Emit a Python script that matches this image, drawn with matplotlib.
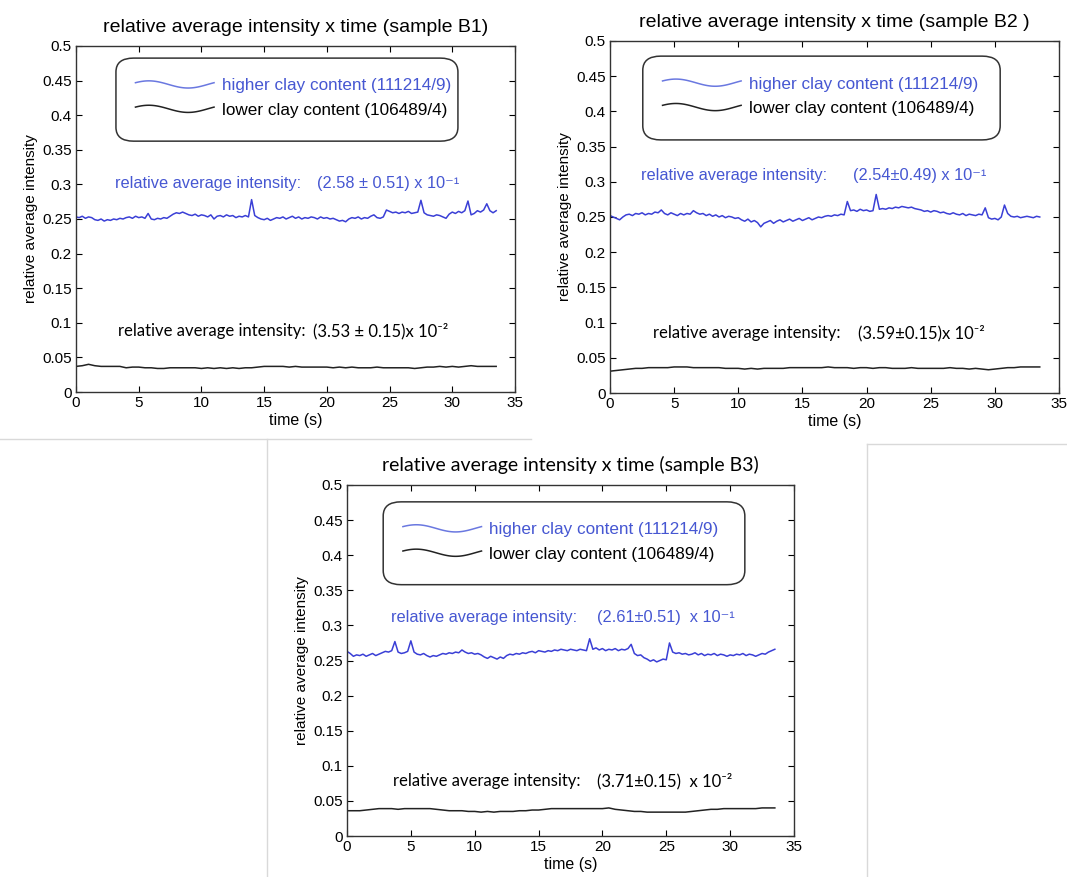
import numpy as np
import matplotlib
matplotlib.use('Agg')
from matplotlib import pyplot as plt
from matplotlib.legend_handler import HandlerLine2D
from matplotlib.lines import Line2D
from matplotlib.patches import FancyBboxPatch
from matplotlib.ticker import FormatStrFormatter, MultipleLocator


# Sampled intensities (blue every 0.25 s, black every 0.5 s)
STEP_HIGH = 0.25
STEP_LOW = 0.5

b1_high = [
    0.253, 0.252, 0.254, 0.251, 0.253, 0.252, 0.249,
    0.248, 0.250, 0.247, 0.249, 0.248, 0.250, 0.249,
    0.251, 0.250, 0.252, 0.253, 0.251, 0.254, 0.252, 0.253, 0.251,
    0.258, 0.250,
    0.249, 0.251, 0.250, 0.252, 0.251, 0.254,
    0.257, 0.259, 0.258, 0.260, 0.258,
    0.256, 0.255, 0.257, 0.254, 0.256, 0.255, 0.253, 0.256,
    0.250,
    0.254, 0.255, 0.253, 0.256, 0.254, 0.255, 0.252, 0.254, 0.253, 0.255, 0.253,
    0.278,
    0.255, 0.252, 0.250, 0.249, 0.251, 0.248, 0.250,
    0.252, 0.251, 0.253, 0.250, 0.252, 0.254, 0.251, 0.253, 0.250, 0.252,
    0.251, 0.253, 0.252, 0.250, 0.253, 0.251, 0.252, 0.250, 0.251, 0.249,
    0.247, 0.248, 0.246,
    0.250, 0.252, 0.251, 0.253, 0.250, 0.252, 0.251, 0.254, 0.256, 0.252, 0.251, 0.253,
    0.263, 0.261, 0.259, 0.260, 0.258, 0.260, 0.259, 0.261, 0.258, 0.259, 0.260,
    0.277,
    0.259, 0.256, 0.255, 0.254, 0.256, 0.255, 0.253, 0.251,
    0.257, 0.260, 0.258, 0.261, 0.259, 0.262,
    0.276,
    0.256, 0.258, 0.262, 0.260, 0.263,
    0.272,
    0.262, 0.259, 0.262,
]

b2_high = [
    0.252, 0.250, 0.248, 0.246,
    0.250, 0.253, 0.254, 0.252, 0.255, 0.254, 0.256, 0.253, 0.255, 0.254, 0.257, 0.256,
    0.260,
    0.255, 0.253, 0.256, 0.254, 0.252, 0.255, 0.253, 0.255, 0.254,
    0.259, 0.256,
    0.254, 0.255, 0.252, 0.254, 0.251, 0.253, 0.250, 0.252, 0.249, 0.251, 0.250, 0.248,
    0.249, 0.246, 0.244, 0.247, 0.243, 0.245, 0.242, 0.236, 0.241,
    0.243, 0.245, 0.241, 0.244, 0.246, 0.243, 0.245, 0.247, 0.244, 0.246, 0.248,
    0.245, 0.247, 0.249, 0.246, 0.248, 0.250, 0.249, 0.251, 0.252, 0.251,
    0.253, 0.252, 0.254, 0.253,
    0.272,
    0.259, 0.260, 0.258, 0.261, 0.259, 0.260, 0.258, 0.259,
    0.282,
    0.261, 0.262, 0.261, 0.263, 0.262, 0.264, 0.263, 0.265, 0.264, 0.263, 0.264,
    0.262, 0.261, 0.260, 0.258, 0.259, 0.257, 0.259, 0.258, 0.256, 0.257, 0.255, 0.254,
    0.256, 0.254, 0.253, 0.255, 0.252, 0.254, 0.253, 0.252, 0.254, 0.253,
    0.263,
    0.249, 0.247, 0.248, 0.246, 0.250,
    0.267,
    0.255, 0.251, 0.250, 0.251, 0.249, 0.250, 0.251, 0.250, 0.249, 0.251, 0.250,
]

b3_high = [
    0.263, 0.260, 0.256, 0.258,
    0.257, 0.259, 0.256, 0.258, 0.260, 0.257, 0.259, 0.261, 0.263, 0.262, 0.264,
    0.277,
    0.262, 0.260, 0.261, 0.263,
    0.278,
    0.262, 0.259, 0.258, 0.260, 0.257, 0.255, 0.257, 0.256,
    0.258, 0.260, 0.259, 0.261, 0.260, 0.262, 0.261, 0.265, 0.262, 0.260, 0.261, 0.259,
    0.260, 0.258,
    0.255, 0.253, 0.256, 0.254, 0.252, 0.255, 0.253,
    0.257, 0.259, 0.258, 0.260, 0.259, 0.261, 0.260,
    0.262, 0.263, 0.261, 0.264, 0.263, 0.262, 0.264, 0.263, 0.265, 0.264,
    0.266, 0.265, 0.264, 0.266, 0.265, 0.264, 0.266, 0.265, 0.264,
    0.281,
    0.266, 0.268, 0.265, 0.267, 0.264, 0.266, 0.265, 0.267, 0.264, 0.266, 0.265, 0.267,
    0.273,
    0.260, 0.257, 0.258,
    0.254, 0.252, 0.249, 0.251, 0.248, 0.250, 0.252, 0.251,
    0.275,
    0.262, 0.260, 0.261, 0.259, 0.260, 0.258, 0.259, 0.261, 0.258, 0.260, 0.257,
    0.259, 0.258, 0.260, 0.257, 0.259, 0.258, 0.256, 0.258, 0.257, 0.259, 0.258,
    0.260, 0.257, 0.259, 0.258, 0.256, 0.258, 0.260, 0.259, 0.262, 0.264, 0.266,
]

b1_low = [
    0.037, 0.038, 0.040, 0.038, 0.037, 0.037, 0.037, 0.037, 0.035, 0.036,
    0.036, 0.035, 0.035, 0.034, 0.034, 0.035, 0.035, 0.035, 0.035, 0.035,
    0.034, 0.035, 0.034, 0.035, 0.034, 0.035, 0.034, 0.035, 0.035, 0.036,
    0.037, 0.037, 0.037, 0.037, 0.036, 0.037, 0.036, 0.036, 0.036, 0.036,
    0.036, 0.035, 0.036, 0.035, 0.036, 0.035, 0.035, 0.035, 0.036, 0.035,
    0.035, 0.035, 0.035, 0.035, 0.034, 0.035, 0.036, 0.036, 0.037, 0.036,
    0.037, 0.036, 0.037, 0.038, 0.037, 0.037, 0.037, 0.037,
]

b2_low = [
    0.031, 0.032, 0.033, 0.034, 0.035, 0.035, 0.036, 0.036, 0.036, 0.036,
    0.037, 0.037, 0.037, 0.036, 0.036, 0.036, 0.036, 0.036, 0.035, 0.035,
    0.035, 0.034, 0.035, 0.034, 0.035, 0.035, 0.035, 0.035, 0.036, 0.036,
    0.036, 0.036, 0.036, 0.036, 0.037, 0.036, 0.036, 0.036, 0.035, 0.036,
    0.036, 0.035, 0.036, 0.036, 0.035, 0.035, 0.035, 0.036, 0.035, 0.035,
    0.035, 0.035, 0.035, 0.036, 0.035, 0.035, 0.034, 0.035, 0.034, 0.033,
    0.034, 0.035, 0.036, 0.036, 0.037, 0.037, 0.037, 0.037,
]

b3_low = [
    0.036, 0.036, 0.036, 0.037, 0.038, 0.039, 0.039, 0.039, 0.038, 0.039,
    0.039, 0.039, 0.039, 0.039, 0.038, 0.037, 0.036, 0.036, 0.036, 0.035,
    0.035, 0.034, 0.035, 0.034, 0.035, 0.035, 0.035, 0.036, 0.036, 0.037,
    0.037, 0.038, 0.039, 0.039, 0.039, 0.039, 0.039, 0.039, 0.039, 0.039,
    0.039, 0.040, 0.038, 0.037, 0.036, 0.035, 0.035, 0.034, 0.034, 0.034,
    0.034, 0.034, 0.034, 0.034, 0.035, 0.036, 0.037, 0.038, 0.038, 0.039,
    0.039, 0.039, 0.039, 0.039, 0.039, 0.040, 0.040, 0.040,
]

titles = [
    'relative average intensity x time (sample B1)',
    'relative average intensity x time (sample B2 )',
    'relative average intensity x time (sample B3)',
]
high_label = 'higher clay content (111214/9)'
low_label = 'lower clay content (106489/4)'
stat_label = 'relative average intensity:'
high_stats = ['(2.58 \u00b1 0.51) x 10\u207b\u00b9', '(2.54\u00b10.49) x 10\u207b\u00b9',
              '(2.61\u00b10.51)  x 10\u207b\u00b9']
low_stats = ['(3.53 \u00b1 0.15)x 10\u207b\u00b2', '(3.59\u00b10.15)x 10\u207b\u00b2',
             '(3.71\u00b10.15)  x 10\u207b\u00b2']

# Layout (figure pixels / axes fractions)
W, H = 1067, 877
axes_px = [(76, 46, 515, 392), (610, 41, 1059, 393), (347, 485, 794, 836)]
legend_box = [(0.091, 0.725, 0.870, 0.965), (0.073, 0.719, 0.869, 0.957),
              (0.081, 0.716, 0.890, 0.952)]
high_text_pos = [(0.089, 0.550, 0.604), (0.069, 0.541, 0.619), (0.098, 0.559, 0.622)]
low_text_pos = [(0.096, 0.540, 0.176), (0.096, 0.552, 0.170), (0.103, 0.560, 0.156)]
title_fonts = [['Liberation Sans', 'DejaVu Sans'], ['Liberation Sans', 'DejaVu Sans'],
               ['Lato', 'DejaVu Sans']]

BLUE = '#3a3fd6'
BLUE_TEXT = '#4657d2'
BLUE_LEG = '#6a78e0'
DARK = '#222222'
ARIAL = ['Liberation Sans', 'DejaVu Sans']
CALIBRI = ['Lato', 'DejaVu Sans']


class WaveHandler(HandlerLine2D):
    # draws the legend sample as a little wave, like the reference
    def create_artists(self, legend, orig_handle, xdescent, ydescent,
                       width, height, fontsize, trans):
        s = np.linspace(0, 1, 60)
        ys = np.sin(2 * np.pi * (s + 0.08))
        line = Line2D(-xdescent + s * width,
                      -ydescent + height / 2 + 0.3 * height * ys,
                      color=orig_handle.get_color(), lw=1.1)
        line.set_transform(trans)
        return [line]


fig = plt.figure(figsize=(W / 100, H / 100), dpi=100)

# light gray frames of the pasted panels
gray = '#d9d9d9'
fig.add_artist(Line2D([0, 531 / W], [1 - 439 / H] * 2, color=gray, lw=1))
fig.add_artist(Line2D([267 / W] * 2, [1 - 439 / H, 0], color=gray, lw=1))
fig.add_artist(Line2D([867 / W] * 2, [1 - 444 / H, 0], color=gray, lw=1))
fig.add_artist(Line2D([867 / W, 1], [1 - 444 / H] * 2, color=gray, lw=1))

highs = [b1_high, b2_high, b3_high]
lows = [b1_low, b2_low, b3_low]

for i in range(3):
    x0, y0, x1, y1 = axes_px[i]
    ax = fig.add_axes([x0 / W, 1 - y1 / H, (x1 - x0) / W, (y1 - y0) / H])

    th = np.arange(len(highs[i])) * STEP_HIGH
    tl = np.arange(len(lows[i])) * STEP_LOW
    hl, = ax.plot(th, highs[i], color=BLUE, lw=1.1)
    ll, = ax.plot(tl, lows[i], color=DARK, lw=1.1)

    ax.set_xlim(0, 35)
    ax.set_ylim(0, 0.5)
    ax.xaxis.set_major_locator(MultipleLocator(5))
    ax.yaxis.set_major_locator(MultipleLocator(0.05))
    ax.yaxis.set_major_formatter(FormatStrFormatter('%g'))
    ax.tick_params(direction='in', top=True, right=True, length=4, width=0.8,
                   labelsize=11, pad=3)
    for lab in ax.get_xticklabels() + ax.get_yticklabels():
        lab.set_family(ARIAL)
    for sp in ax.spines.values():
        sp.set_linewidth(1.0)
        sp.set_color('#333333')

    ax.set_title(titles[i], family=title_fonts[i], fontsize=14, pad=10)
    ax.set_xlabel('time (s)', family=ARIAL, fontsize=11.5, labelpad=2)
    ax.set_ylabel('relative average intensity', family=ARIAL, fontsize=11, labelpad=3)

    # rounded legend box
    bx0, by0, bx1, by1 = legend_box[i]
    box = FancyBboxPatch((bx0, by0), bx1 - bx0, by1 - by0,
                         boxstyle='round,pad=0,rounding_size=0.04',
                         transform=ax.transAxes, facecolor='white',
                         edgecolor='#333333', lw=1.1, zorder=3)
    ax.add_patch(box)
    leg = ax.legend([hl, ll], [high_label, low_label], loc='upper left',
                    bbox_to_anchor=(bx0 + 0.025, by1 - 0.034), frameon=False,
                    handlelength=4.6, handletextpad=0.45, labelspacing=0.55,
                    borderpad=0, prop={'family': ARIAL, 'size': 12.3},
                    handler_map={Line2D: WaveHandler()})
    leg.set_zorder(4)
    leg.get_texts()[0].set_color(BLUE_TEXT)
    leg.legend_handles[0].set_color(BLUE_LEG)

    # mean intensity annotations
    lx, vx, yy = high_text_pos[i]
    ax.text(lx, yy, stat_label, transform=ax.transAxes, color=BLUE_TEXT,
            family=ARIAL, fontsize=11.8, va='center')
    ax.text(vx, yy, high_stats[i], transform=ax.transAxes, color=BLUE_TEXT,
            family=ARIAL, fontsize=11.8, va='center')
    lx, vx, yy = low_text_pos[i]
    ax.text(lx, yy, stat_label, transform=ax.transAxes, color='black',
            family=CALIBRI, fontsize=12, va='center')
    ax.text(vx, yy, low_stats[i], transform=ax.transAxes, color='black',
            family=CALIBRI, fontsize=12, va='center')

plt.savefig('out.png', dpi=100)
